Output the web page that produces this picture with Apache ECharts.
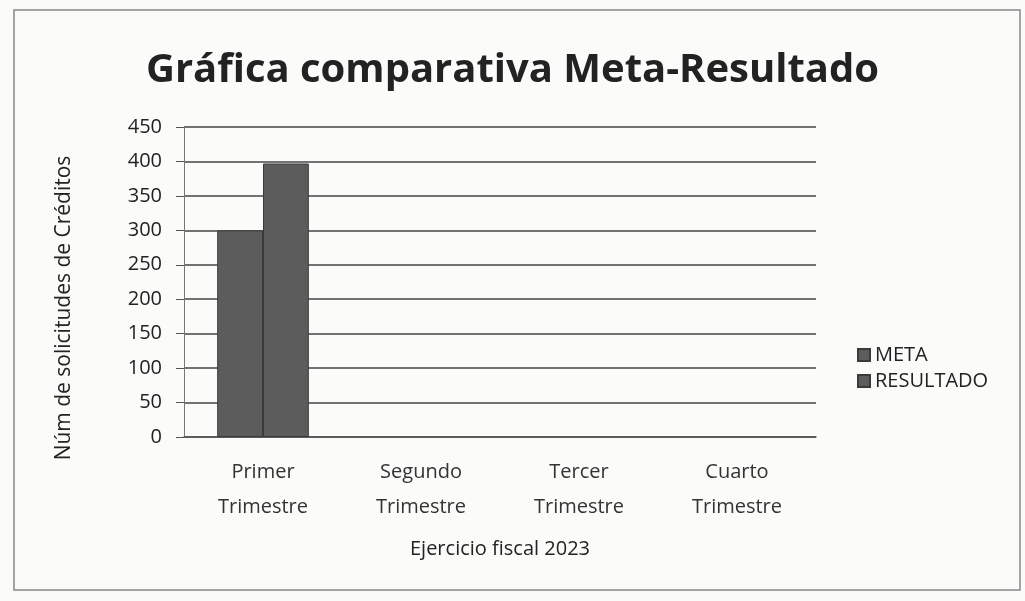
<!DOCTYPE html>
<html><head><meta charset="utf-8">
<script src="https://cdn.jsdelivr.net/npm/echarts@6/dist/echarts.min.js"></script>
<style>html,body{margin:0;padding:0;background:#fff}#c{width:1025px;height:601px}</style>
</head><body><div id="c"></div>
<script>
const categories = ['Primer\nTrimestre', 'Segundo\nTrimestre', 'Tercer\nTrimestre', 'Cuarto\nTrimestre'];
const metaValues = [300, null, null, null];
const resultadoValues = [397, null, null, null];
const yTicks = {min: 0, max: 450, interval: 50};

const chart = echarts.init(document.getElementById('c'));
chart.setOption({
  backgroundColor: '#fbfbfa',
  textStyle: {fontFamily: '"Open Sans", "DejaVu Sans", sans-serif', color: '#222'},
  graphic: [
    {type: 'rect', shape: {x: 14, y: 10, width: 1006, height: 580}, style: {fill: 'none', stroke: '#888', lineWidth: 1.5}, z: -1},
    {type: 'text', x: 64, y: 308, rotation: Math.PI / 2, style: {text: 'Núm de solicitudes de Créditos', fontSize: 21, fill: '#222', align: 'center', verticalAlign: 'middle', fontFamily: '"Open Sans", sans-serif'}}
  ],
  title: {text: 'Gráfica comparativa Meta-Resultado', left: 'center', top: 46,
    textStyle: {fontSize: 40, fontWeight: 'bold', color: '#222', fontFamily: '"Open Sans", sans-serif'}},
  legend: {orient: 'vertical', left: 852, top: 340, itemWidth: 12, itemHeight: 12, itemGap: 6, icon: 'rect',
    textStyle: {fontSize: 20, color: '#222'}, data: ['META', 'RESULTADO']},
  grid: {left: 184, right: 209, top: 127, bottom: 164},
  xAxis: {type: 'category', data: categories,
    name: 'Ejercicio fiscal 2023', nameLocation: 'middle', nameGap: 102,
    nameTextStyle: {fontSize: 20, color: '#222'},
    axisLine: {lineStyle: {color: '#555', width: 1.5}}, axisTick: {show: false},
    axisLabel: {fontSize: 20, color: '#333', lineHeight: 35, margin: 18}},
  yAxis: {type: 'value', min: yTicks.min, max: yTicks.max, interval: yTicks.interval,
    axisLine: {show: true, lineStyle: {color: '#777'}},
    axisTick: {show: true, length: 8, inside: false, lineStyle: {color: '#555'}},
    axisLabel: {fontSize: 20, color: '#222', margin: 22},
    splitLine: {lineStyle: {color: '#444', width: 1.5}}},
  series: [
    {name: 'META', type: 'bar', data: metaValues, barGap: 0, barCategoryGap: '42%',
      itemStyle: {color: '#5c5c5c', borderColor: '#3a3a3a', borderWidth: 1}},
    {name: 'RESULTADO', type: 'bar', data: resultadoValues,
      itemStyle: {color: '#5c5c5c', borderColor: '#3a3a3a', borderWidth: 1}}
  ]
});
</script></body></html>
